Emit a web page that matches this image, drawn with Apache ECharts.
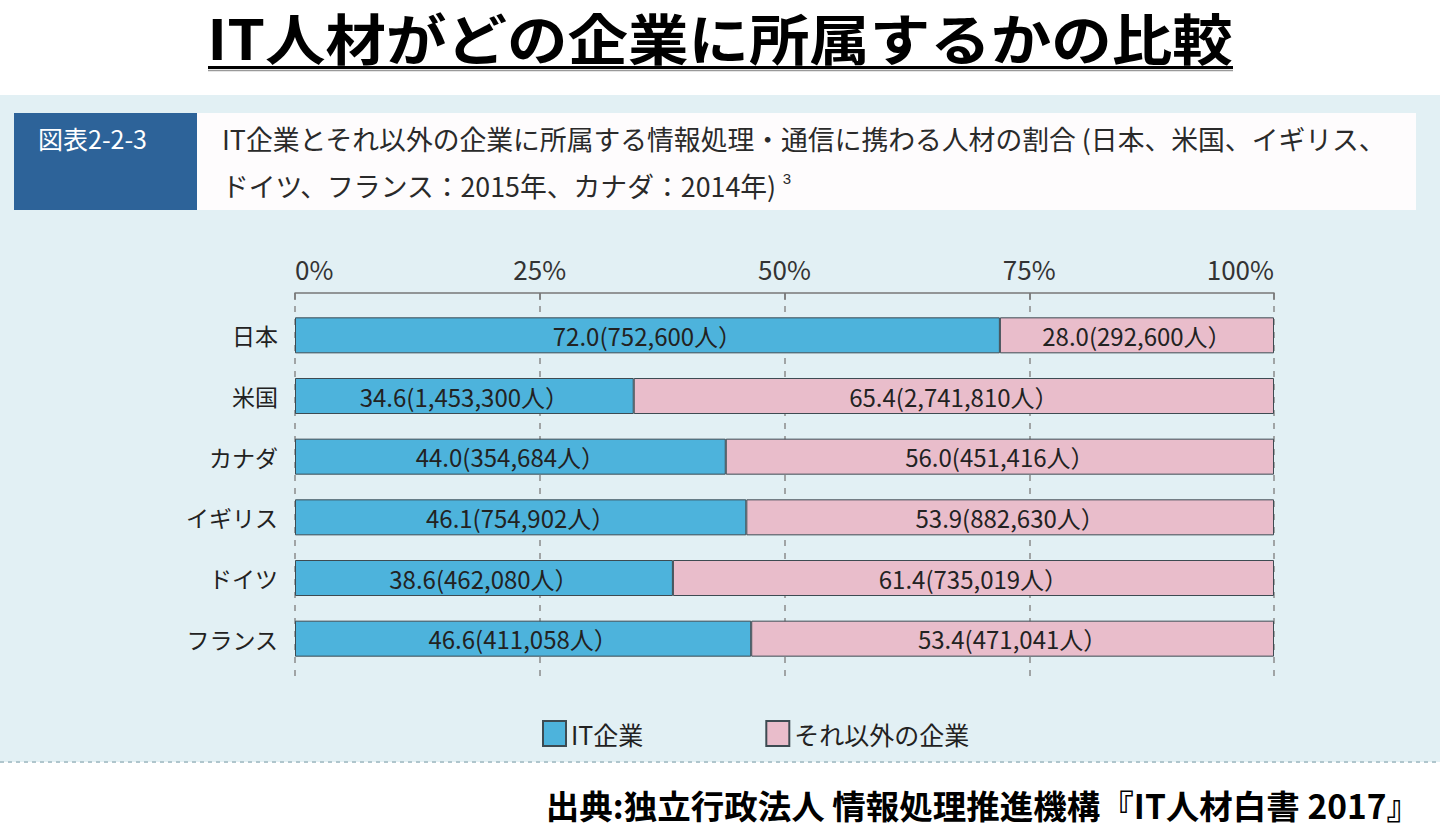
<!DOCTYPE html>
<html><head><meta charset="utf-8">
<script src="https://cdn.jsdelivr.net/npm/echarts@6/dist/echarts.min.js"></script>
<style>html,body{margin:0;padding:0;background:#fff}#c{width:1440px;height:829px}</style>
</head><body><div id="c"></div>
<script>
const categories = ['日本', '米国', 'カナダ', 'イギリス', 'ドイツ', 'フランス'];
const itShare = [72.0, 34.6, 44.0, 46.1, 38.6, 46.6];
const otherShare = [28.0, 65.4, 56.0, 53.9, 61.4, 53.4];
const itCount = [752600, 1453300, 354684, 754902, 462080, 411058];
const otherCount = [292600, 2741810, 451416, 882630, 735019, 471041];
const tickLabels = ['0%', '25%', '50%', '75%', '100%'];
const seriesNames = ['IT企業', 'それ以外の企業'];

const FONT = '"Noto Sans CJK JP", "Noto Sans", sans-serif';
const fmt = n => String(n).replace(/\B(?=(\d{3})+(?!\d))/g, ',');
const chart = echarts.init(document.getElementById('c'), null, {renderer: 'svg'});

const option = {
  backgroundColor: '#ffffff',
  animation: false,
  textStyle: {fontFamily: FONT},
  graphic: [
    {type: 'rect', z: -10, shape: {x: 0, y: 95, width: 1440, height: 667}, style: {fill: '#e2f0f4'}},
    {type: 'line', z: -5, shape: {x1: 0, y1: 762, x2: 1440, y2: 762}, style: {stroke: '#b0c6cd', lineWidth: 2, lineDash: [4, 4]}},
    {type: 'rect', z: -5, shape: {x: 14, y: 113, width: 183, height: 97}, style: {fill: '#2d6399'}},
    {type: 'rect', z: -5, shape: {x: 197, y: 113, width: 1219, height: 97}, style: {fill: '#fefcfd'}},
    {type: 'text', style: {text: '図表2-2-3', x: 38, y: 138, fill: '#ffffff', font: '25px ' + FONT, textVerticalAlign: 'middle'}},
    {type: 'text', style: {text: 'IT企業とそれ以外の企業に所属する情報処理・通信に携わる人材の割合 (日本、米国、イギリス、', x: 222, y: 138, fill: '#2a2a2a', font: '26.8px ' + FONT, textVerticalAlign: 'middle'}},
    {type: 'text', style: {text: 'ドイツ、フランス：2015年、カナダ：2014年) {sup|3}', x: 222, y: 185, fill: '#2a2a2a', font: '26.8px ' + FONT, textVerticalAlign: 'middle',
      rich: {sup: {fontSize: 15, fill: '#2a2a2a', color: '#2a2a2a', padding: [0, 0, 14, 0]}}}},
    {type: 'text', x: 720, y: 36, scaleX: 1.1, scaleY: 1,
      style: {text: 'IT人材がどの企業に所属するかの比較', x: 0, y: 0, fill: '#000', font: 'bold 55px ' + FONT, lineHeight: 52, textAlign: 'center', textVerticalAlign: 'middle'}},
    {type: 'line', shape: {x1: 208, y1: 67.5, x2: 1233, y2: 67.5}, style: {stroke: '#000', lineWidth: 3}},
    {type: 'line', shape: {x1: 208, y1: 70.5, x2: 1233, y2: 70.5}, style: {stroke: '#9a9a9a', lineWidth: 1.5}},
    {type: 'text', style: {text: '出典:独立行政法人 情報処理推進機構『IT人材白書 2017』', x: 1420, y: 804, fill: '#000', font: 'bold 33.5px ' + FONT, textAlign: 'right', textVerticalAlign: 'middle'}}
  ],
  legend: {
    data: seriesNames,
    left: 537, top: 715,
    itemWidth: 23, itemHeight: 25, itemGap: 122,
    icon: 'rect',
    textStyle: {fontSize: 25, color: '#222', fontFamily: FONT}
  },
  grid: [
    {left: 295, right: 166, top: 293, bottom: 148},
    {left: 295, right: 166, top: 305, bottom: 160}
  ],
  xAxis: [
    {gridIndex: 0, type: 'value', position: 'top', min: 0, max: 100, interval: 25,
      axisLine: {show: true, onZero: false, lineStyle: {color: '#777', width: 1.5}},
      axisTick: {show: true, inside: true, length: 7, lineStyle: {color: '#777', width: 1.5}},
      axisLabel: {formatter: v => tickLabels[Math.round(v / 25)], fontSize: 26, color: '#333', margin: 12,
        alignMinLabel: 'left', alignMaxLabel: 'right', fontFamily: FONT},
      splitLine: {show: true, lineStyle: {type: [6, 7], color: '#8a8a8a', width: 1.5}}},
    {gridIndex: 1, type: 'value', min: 0, max: 100, show: false}
  ],
  yAxis: [
    {gridIndex: 0, type: 'value', show: false, min: 0, max: 1},
    {gridIndex: 1, type: 'category', data: categories, inverse: true,
      axisLine: {show: false}, axisTick: {show: false},
      axisLabel: {fontSize: 23, color: '#222', margin: 17, fontFamily: FONT}}
  ],
  series: [
    {type: 'bar', name: seriesNames[0], xAxisIndex: 1, yAxisIndex: 1, stack: 'total', data: itShare, barWidth: 36,
      itemStyle: {color: '#4db3dc', borderColor: '#3d4b52', borderWidth: 1},
      label: {show: true, position: 'inside', fontSize: 24, color: '#222', fontFamily: FONT,
        formatter: p => p.value.toFixed(1) + '(' + fmt(itCount[p.dataIndex]) + '人）'}},
    {type: 'bar', name: seriesNames[1], xAxisIndex: 1, yAxisIndex: 1, stack: 'total', data: otherShare, barWidth: 36,
      itemStyle: {color: '#e9bdcb', borderColor: '#3d4b52', borderWidth: 1},
      label: {show: true, position: 'inside', fontSize: 24, color: '#222', fontFamily: FONT,
        formatter: p => p.value.toFixed(1) + '(' + fmt(otherCount[p.dataIndex]) + '人）'}}
  ]
};
chart.setOption(option);
</script>
</body></html>
